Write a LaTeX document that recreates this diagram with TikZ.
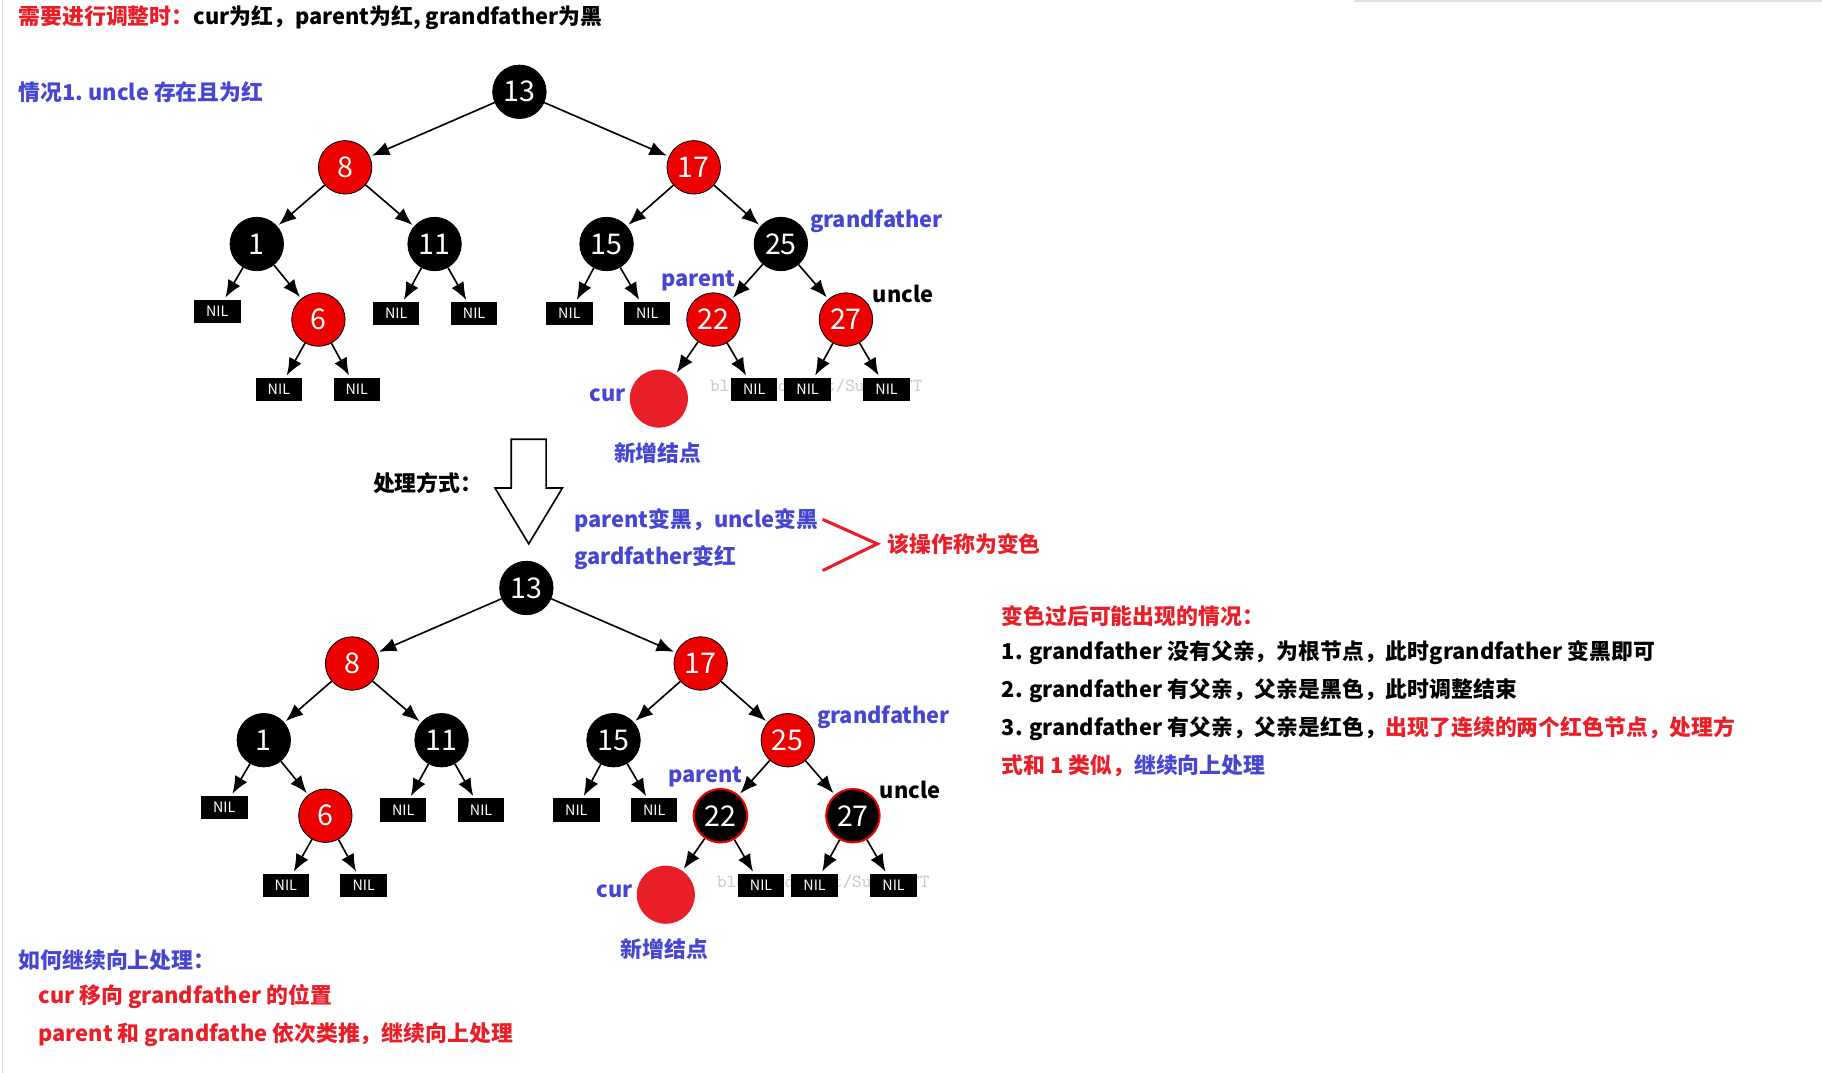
\documentclass[tikz,border=0pt]{standalone}
\usepackage{fontspec}
\setmainfont{Noto Sans CJK SC}
\usetikzlibrary{arrows.meta}
\definecolor{rbred}{RGB}{237,0,0}
\definecolor{curred}{RGB}{232,30,40}
\definecolor{lblue}{RGB}{70,70,210}
\definecolor{tred}{RGB}{235,30,40}
\tikzset{
  blk/.style={circle, draw=black, fill=black, text=white, minimum size=0.92cm, inner sep=0pt, font=\fontsize{14}{14}\selectfont},
  rd/.style={circle, draw=black, fill=rbred, text=white, minimum size=0.92cm, inner sep=0pt, font=\fontsize{14}{14}\selectfont},
  blkr/.style={blk, draw=rbred, line width=1pt},
  nil/.style={rectangle, fill=black, text=white, minimum width=0.8cm, minimum height=0.4cm, inner sep=0pt, font=\fontsize{7}{7}\selectfont},
  newnode/.style={circle, fill=curred, minimum size=1cm, inner sep=0pt},
  edge/.style={-{Latex[length=3mm,width=2.4mm]}, thick, shorten >=1pt},
  lbl/.style={font=\bfseries\fontsize{10.7}{13}\selectfont, inner sep=1pt},
  wmark/.style={text=gray!40, font=\fontsize{9}{9}\selectfont\ttfamily},
}
\newcommand{\rbtree}[3]{% prefix, style of 25, style of 22/27
  \node[wmark, anchor=west] (#1wm) at (158,254) {blog.csdn.net/Sun\_TTTT};
  \node[blk] (#1a) at (0,0) {13};
  \node[rd] (#1b) at (-150,65) {8};
  \node[rd] (#1c) at (150,65) {17};
  \node[blk] (#1d) at (-226,131) {1};
  \node[blk] (#1e) at (-73,131) {11};
  \node[blk] (#1f) at (75,131) {15};
  \node[#2] (#1g) at (225,131) {25};
  \node[nil] (#1n1) at (-260,189) {NIL};
  \node[rd] (#1h) at (-173,196) {6};
  \node[nil] (#1n2) at (-106,191) {NIL};
  \node[nil] (#1n3) at (-39,191) {NIL};
  \node[nil] (#1n4) at (43,191) {NIL};
  \node[nil] (#1n5) at (110,191) {NIL};
  \node[#3] (#1i) at (167,196) {22};
  \node[#3] (#1j) at (281,196) {27};
  \node[nil] (#1n6) at (-207,256) {NIL};
  \node[nil] (#1n7) at (-140,256) {NIL};
  \node[newnode] (#1k) at (120,264) {};
  \node[nil] (#1n8) at (202,256) {NIL};
  \node[nil] (#1n9) at (248,256) {NIL};
  \node[nil] (#1n10) at (316,256) {NIL};
  \foreach \u/\v in {a/b,a/c,b/d,b/e,c/f,c/g,d/n1,d/h,e/n2,e/n3,f/n4,f/n5,g/i,g/j,h/n6,h/n7,i/k,i/n8,j/n9,j/n10}
    \draw[edge] (#1\u) -- (#1\v);
  \node[lbl, text=lblue, anchor=west] (#1gf) at (248,111) {grandfather};
  \node[lbl, text=lblue] (#1pa) at (154,163) {parent};
  \node[lbl, anchor=west] (#1un) at (302,174) {uncle};
  \node[lbl, text=lblue] (#1cu) at (76,261) {cur};
  \node[lbl, text=lblue] (#1xz) at (119,311) {新增结点};}
\begin{document}
\begin{tikzpicture}[x=0.02cm, y=-0.02cm]
\useasboundingbox (0,0) rectangle (1568,923);
\fill[white] (0,0) rectangle (1568,923);
\draw[gray!30] (2,0) -- (2,923);
\draw[gray!25, line width=2pt] (1165,0) -- (1568,0);
% headings
\node[lbl, anchor=west] (head) at (14,15) {\textcolor{tred}{需要进行调整时：}cur为红，parent为红, grandfather为黑};
\node[lbl, anchor=west, text=lblue] (case) at (14,79) {情况1.\ uncle 存在且为红};
% trees
\begin{scope}[shift={(447,79)}]
\rbtree{t}{blk}{rd}
\end{scope}
\begin{scope}[shift={(453,506)}]
\rbtree{s}{rd}{blkr}
\end{scope}
% process arrow
\draw[thick, fill=white] (440,378) -- (470,378) -- (470,420) -- (484,420) -- (455,468) -- (426,420) -- (440,420) -- cycle;
\node[lbl] (how) at (368,416) {处理方式：};
\node[lbl, text=lblue, anchor=west] (op1) at (492,448) {parent变黑，uncle变黑};
\node[lbl, text=lblue, anchor=west] (op2) at (492,480) {gardfather变红};
\coordinate (ga) at (708,447);
\coordinate (gb) at (755,468);
\coordinate (gc) at (708,491);
\draw[tred, line width=1.5pt] (ga) -- (gb) -- (gc);
\node[lbl, text=tred, anchor=west] (chg) at (762,468) {该操作称为变色};
% right notes
\node[lbl, text=tred, anchor=west] (r0) at (860,530) {变色过后可能出现的情况：};
\node[lbl, anchor=west] (r1) at (860,562) {1. grandfather 没有父亲，为根节点，此时grandfather 变黑即可};
\node[lbl, anchor=west] (r2) at (860,594) {2. grandfather 有父亲，父亲是黑色，此时调整结束};
\node[lbl, anchor=west] (r3) at (860,627) {3. grandfather 有父亲，父亲是红色，\textcolor{tred}{出现了连续的两个红色节点，处理方}};
\node[lbl, anchor=west] (r4) at (860,659) {\textcolor{tred}{式和 1 类似，}\textcolor{lblue}{继续向上处理}};
% bottom notes
\node[lbl, text=lblue, anchor=west] (b0) at (14,826) {如何继续向上处理：};
\node[lbl, text=tred, anchor=west] (b1) at (31,858) {cur 移向 grandfather 的位置};
\node[lbl, text=tred, anchor=west] (b2) at (31,890) {parent 和 grandfathe 依次类推，继续向上处理};
\end{tikzpicture}
\end{document}
